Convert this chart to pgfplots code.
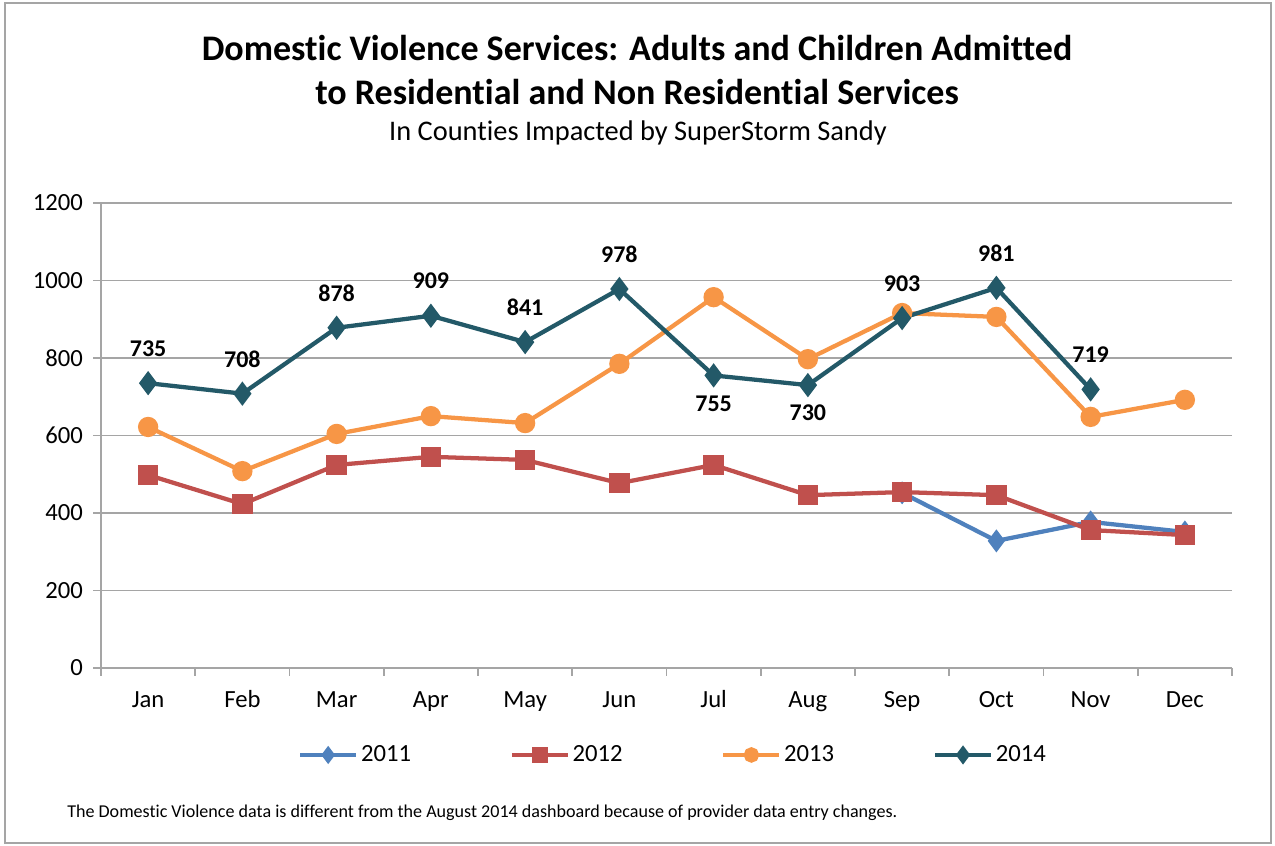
\documentclass[border=0pt]{standalone}
\usepackage{fontspec}
\setmainfont{Carlito}[Ligatures={NoCommon}]
\usepackage{pgfplots}
\usepackage{pgfplotstable}
\pgfplotsset{compat=1.18}
\definecolor{c11}{RGB}{79,129,189}
\definecolor{c12}{RGB}{192,80,77}
\definecolor{c13}{RGB}{247,150,70}
\definecolor{c14}{RGB}{35,89,104}
\definecolor{gridc}{RGB}{165,165,165}

\pgfplotstableread{
x y
9 452
10 328
11 377
12 351
}\televen
\pgfplotstableread{
x y
1 498
2 423
3 524
4 545
5 537
6 477
7 524
8 446
9 454
10 446
11 356
12 343
}\ttwelve
\pgfplotstableread{
x y
1 622
2 508
3 604
4 650
5 632
6 785
7 957
8 797
9 916
10 906
11 648
12 692
}\tthirteen
\pgfplotstableread{
x y off
1 735 26
2 708 26
3 878 26
4 909 26
5 841 26
6 978 26
7 755 -21
8 730 -21
9 903 26
10 981 26
11 719 26
}\tfourteen

\begin{document}
\begin{tikzpicture}[x=0.75pt,y=0.75pt]
\useasboundingbox (0,0) rectangle (1275,846);
\draw[gridc, line width=1.2pt] (5,3) rectangle (1271,843);
\node[font=\fontsize{27}{33}\selectfont\bfseries, align=center] at (637,776) {Domestic Violence Services: Adults and Children Admitted\\to Residential and Non Residential Services};
\node[font=\fontsize{21.3}{25}\selectfont] at (638,713) {In Counties Impacted by SuperStorm Sandy};
\node[font=\fontsize{13.55}{15}\selectfont, anchor=west, inner sep=0pt] at (67,33) {The Domestic Violence data is different from the August 2014 dashboard because of provider data entry changes.};

\begin{axis}[
  scale only axis,
  width=848.25pt, height=348.75pt,
  at={(75.75pt,133.5pt)}, anchor=south west,
  xmin=0.5, xmax=12.5, ymin=0, ymax=1200,
  axis x line=bottom, axis y line=left,
  axis line style={-, gridc, line width=1.2pt},
  xtick={1,...,12},
  xticklabels={Jan,Feb,Mar,Apr,May,Jun,Jul,Aug,Sep,Oct,Nov,Dec},
  minor xtick={0.5,1.5,...,12.5},
  major x tick style={draw=none},
  minor x tick style={gridc, line width=1.2pt},
  y tick style={gridc, line width=1.2pt},
  minor tick length=6pt, major tick length=6pt,
  tick align=outside,
  ytick={0,200,...,1200},
  ymajorgrids,
  grid style={gridc, line width=1.2pt},
  tick label style={font=\fontsize{18.5}{21}\selectfont, text=black},
  xticklabel style={yshift=-8pt, text height=12pt, text depth=3pt},
  yticklabel style={xshift=-4pt},
  /pgf/number format/assume math mode=true,
  /pgf/number format/1000 sep={},
  legend columns=4,
  legend style={draw=none, fill=none, at={(0.506,-0.187)}, anchor=center,
    font=\fontsize{18.5}{21}\selectfont,
    /tikz/every even column/.append style={column sep=72pt}},
  legend image code/.code={\draw[mark repeat=2,mark phase=2, mark options={scale=0.7}] plot coordinates {(0pt,0pt) (21pt,0pt) (42pt,0pt)};},
  every axis plot/.append style={line width=3.2pt},
  clip=false,
]
\addplot[c11, mark=diamond*, mark size=6pt, mark options={solid}] table[x=x,y=y] {\televen};
\addlegendentry{2011}
\addplot[c12, mark=square*, mark size=6pt, mark options={solid}] table[x=x,y=y] {\ttwelve};
\addlegendentry{2012}
\addplot[c13, mark=*, mark size=6pt, mark options={solid}] table[x=x,y=y] {\tthirteen};
\addlegendentry{2013}
\addplot[c14, mark=diamond*, mark size=6.5pt, mark options={solid},
  visualization depends on={\thisrow{off}\as\myoff},
  nodes near coords,
  every node near coord/.append style={anchor=center, text=black, font=\fontsize{18}{21}\selectfont\bfseries, yshift=\myoff pt},
  /pgf/number format/assume math mode=true] table[x=x,y=y] {\tfourteen};
\addlegendentry{2014}
\end{axis}
\end{tikzpicture}
\end{document}
